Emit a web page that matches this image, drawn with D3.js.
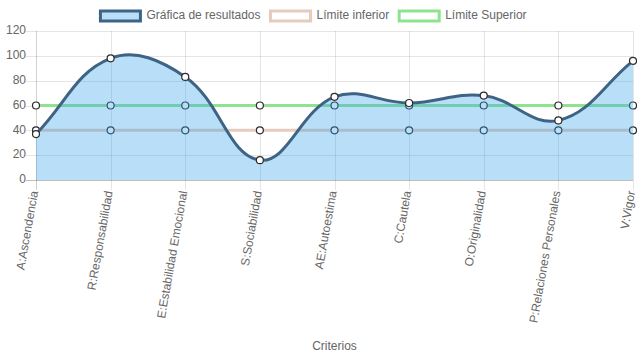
<!DOCTYPE html>
<html><head><meta charset="utf-8">
<script src="https://cdn.jsdelivr.net/npm/d3@7"></script>
<style>body{margin:0;background:#fff}svg{display:block}text{font-family:"Liberation Sans",Arial,Helvetica,sans-serif}</style>
</head><body>
<svg id="c" width="637" height="359"></svg>
<script>
const categories = ["A:Ascendencia","R:Responsabilidad","E:Estabilidad Emocional","S:Sociabilidad","AE:Autoestima","C:Cautela","O:Originalidad","P:Relaciones Personales","V:Vigor"];
const resultados = [37, 98, 83, 16, 67, 62, 68, 48, 96];
const limiteInferior = [40, 40, 40, 40, 40, 40, 40, 40, 40];
const limiteSuperior = [60, 60, 60, 60, 60, 60, 60, 60, 60];
const yTicks = [0, 20, 40, 60, 80, 100, 120];
const seriesNames = ["Gráfica de resultados", "Límite inferior", "Límite Superior"];
const xTitle = "Criterios";

(function(){
const W = 637, H = 359;
const L = 36, R = 633, T = 31, B = 180;
const svg = d3.select("#c");
const x = d3.scalePoint().domain(categories).range([L, R]);
const y = d3.scaleLinear().domain([0, 120]).range([B, T]);

// Chart.js-like spline curve (tension 0.4)
function ChartCurve(ctx){ this._c = ctx; }
ChartCurve.prototype = {
  areaStart(){}, areaEnd(){},
  lineStart(){ this._p = []; },
  point(px, py){ this._p.push({x:+px, y:+py}); },
  lineEnd(){
    const p = this._p, t = 0.4, n = p.length, c = this._c;
    p.forEach((cur, i) => {
      const prev = p[Math.max(0, i-1)], next = p[Math.min(n-1, i+1)];
      const d01 = Math.hypot(cur.x-prev.x, cur.y-prev.y);
      const d12 = Math.hypot(next.x-cur.x, next.y-cur.y);
      let s01 = d01/(d01+d12), s12 = d12/(d01+d12);
      if (isNaN(s01)) s01 = 0; if (isNaN(s12)) s12 = 0;
      const fa = t*s01, fb = t*s12;
      cur.cpx0 = cur.x - fa*(next.x-prev.x); cur.cpy0 = cur.y - fa*(next.y-prev.y);
      cur.cpx1 = cur.x + fb*(next.x-prev.x); cur.cpy1 = cur.y + fb*(next.y-prev.y);
      cur.cpy0 = Math.max(T, Math.min(B, cur.cpy0));
      cur.cpy1 = Math.max(T, Math.min(B, cur.cpy1));
    });
    p.forEach((cur, i) => {
      if (i === 0) c.moveTo(cur.x, cur.y);
      else { const pr = p[i-1]; c.bezierCurveTo(pr.cpx1, pr.cpy1, cur.cpx0, cur.cpy0, cur.x, cur.y); }
    });
  }
};
const curve = ctx => new ChartCurve(ctx);

// grid
const g = svg.append("g");
yTicks.forEach(v => {
  g.append("line").attr("x1", L-10).attr("x2", R).attr("y1", Math.round(y(v))+0.5).attr("y2", Math.round(y(v))+0.5)
   .attr("stroke", v === 0 ? "rgba(0,0,0,0.25)" : "rgba(0,0,0,0.1)").attr("stroke-width", 1);
  g.append("text").attr("x", L-10).attr("y", y(v)).attr("text-anchor", "end").attr("dominant-baseline", "middle")
   .attr("font-size", 12).attr("fill", "#666").text(v);
});
categories.forEach((c, i) => {
  g.append("line").attr("x1", Math.round(x(c))+0.5).attr("x2", Math.round(x(c))+0.5).attr("y1", T).attr("y2", B+10)
   .attr("stroke", i === 0 ? "rgba(0,0,0,0.18)" : "rgba(0,0,0,0.1)").attr("stroke-width", 1);
  g.append("text").attr("transform", `translate(${x(c)-1},${B+11}) rotate(-80)`)
   .attr("text-anchor", "end").attr("dominant-baseline", "middle").attr("font-size", 12).attr("fill", "#666").text(c);
});
svg.append("text").attr("x", (L+R)/2).attr("y", 347).attr("text-anchor", "middle").attr("dominant-baseline", "middle")
  .attr("font-size", 12).attr("fill", "#666").text(xTitle);

const lineGen = d3.line().x((d, i) => x(categories[i])).y(d => y(d)).curve(curve);
const straight = d3.line().x((d, i) => x(categories[i])).y(d => y(d));

const colors = [
  {stroke: "#3e6384", fill: "rgba(54,162,235,0.35)"},
  {stroke: "#e6cbbf", fill: "#fff"},
  {stroke: "#8fe38f", fill: "#fff"}
];
const ptStroke = "#2b2b2b";

function drawPoints(data){
  svg.append("g").selectAll("circle").data(data).join("circle")
    .attr("cx", (d, i) => x(categories[i])).attr("cy", d => y(d)).attr("r", 3.5)
    .attr("fill", "#fff").attr("stroke", ptStroke).attr("stroke-width", 1.2);
}

svg.append("path").attr("d", straight(limiteSuperior)).attr("fill", "none").attr("stroke", colors[2].stroke).attr("stroke-width", 3);
drawPoints(limiteSuperior);
svg.append("path").attr("d", straight(limiteInferior)).attr("fill", "none").attr("stroke", colors[1].stroke).attr("stroke-width", 3);
drawPoints(limiteInferior);

const topPath = lineGen(resultados);
svg.append("path").attr("d", topPath + `L${x(categories[categories.length-1])},${y(0)}L${x(categories[0])},${y(0)}Z`)
  .attr("fill", colors[0].fill).attr("stroke", "none");
svg.append("path").attr("d", topPath).attr("fill", "none").attr("stroke", colors[0].stroke).attr("stroke-width", 3);
drawPoints(resultados);

const leg = svg.append("g");
const tmp = seriesNames.map(s => {
  const t = leg.append("text").attr("font-size", 12).attr("fill", "#666").attr("dominant-baseline", "middle").text(s);
  return {t, w: t.node().getComputedTextLength()};
});
const itemW = tmp.map(o => 40 + 6 + o.w);
const total = d3.sum(itemW) + 10*(itemW.length - 1);
let cx = (W - total)/2 - 5;
tmp.forEach((o, i) => {
  leg.append("rect").attr("x", cx).attr("y", 11).attr("width", 40).attr("height", 10)
    .attr("fill", i === 0 ? "rgba(54,162,235,0.35)" : "#fff").attr("stroke", colors[i].stroke).attr("stroke-width", 3);
  o.t.attr("x", cx + 46).attr("y", 16);
  cx += itemW[i] + 10;
});
})();
</script>
</body></html>
